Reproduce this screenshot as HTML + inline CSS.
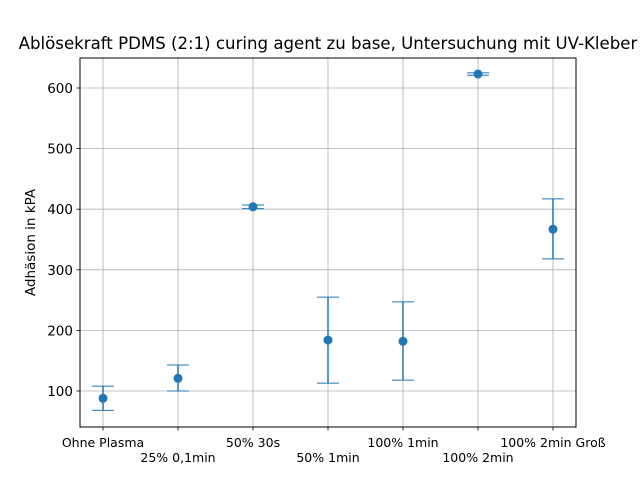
<!DOCTYPE html>
<html><head><meta charset="utf-8"><style>
body{margin:0;background:#fff;}
svg{display:block;font-family:"DejaVu Sans","Liberation Sans",sans-serif;}
</style></head><body>
<svg id="chart" width="640" height="480" viewBox="0 0 640 480" xmlns="http://www.w3.org/2000/svg">
<rect width="640" height="480" fill="#fff"/>
<g id="grid"></g>
<g id="marks"></g>
<rect x="80" y="58" width="496" height="369" fill="none" stroke="#000" stroke-width="1"/>
<g id="ticks"></g>
<text x="328" y="49" font-size="16.6" text-anchor="middle">Ablösekraft PDMS (2:1) curing agent zu base, Untersuchung mit UV-Kleber</text>
<text transform="translate(35,242.5) rotate(-90)" font-size="13.5" text-anchor="middle">Adhäsion in kPA</text>
</svg>
<script>
const categories=["Ohne Plasma","25% 0,1min","50% 30s","50% 1min","100% 1min","100% 2min","100% 2min Groß"];
const values=[88,121,404,184,182,623,367];
const errLow=[68,100,401,113,118,621,318];
const errHigh=[108,143,407,255,247,625,417];
const yTicks=[100,200,300,400,500,600];
const NS="http://www.w3.org/2000/svg";
const L=80,R=576,T=58,B=427,xMin=-0.307,xMax=6.307,yMin=40.6,yMax=649.5;
const xs=i=>L+(i-xMin)/(xMax-xMin)*(R-L);
const ys=v=>B-(v-yMin)/(yMax-yMin)*(B-T);
function mk(tag,attrs,parent){const e=document.createElementNS(NS,tag);for(const k in attrs)e.setAttribute(k,attrs[k]);document.getElementById(parent).appendChild(e);return e;}
const C="#1f77b4";
categories.forEach((c,i)=>{
 const x=xs(i);
 const g=mk("line",{x1:x,x2:x,y1:T,y2:B,stroke:"#b0b0b0","stroke-width":0.8},"grid");
 
 
 const t=mk("line",{x1:x,x2:x,y1:B,y2:B+3.5,stroke:"#000","stroke-width":0.8},"ticks");
 
 
 const lb=mk("text",{x:x,y:B+(i%2?35:20),"font-size":12.5,"text-anchor":"middle"},"ticks");
 lb.textContent=c;
 
 
 const v=mk("line",{x1:x,x2:x,y1:ys(errLow[i]),y2:ys(errHigh[i]),stroke:C,"stroke-width":1.5},"marks");
 
 
 [errLow[i],errHigh[i]].forEach(e=>{
  const cap=mk("line",{x1:x-11,x2:x+11,y1:ys(e),y2:ys(e),stroke:C,"stroke-width":1},"marks");
  
  
 });
 const p=mk("circle",{cx:x,cy:ys(values[i]),r:4.5,fill:C},"marks");
 
 
});
yTicks.forEach(v=>{
 const y=ys(v);
 const g=mk("line",{x1:L,x2:R,y1:y,y2:y,stroke:"#b0b0b0","stroke-width":0.8},"grid");
 
 
 const t=mk("line",{x1:L-3.5,x2:L,y1:y,y2:y,stroke:"#000","stroke-width":0.8},"ticks");
 
 
 const lb=mk("text",{x:L-7,y:y+5,"font-size":13.5,"text-anchor":"end"},"ticks");
 lb.textContent=v;
 
 
});
</script>
</body></html>
